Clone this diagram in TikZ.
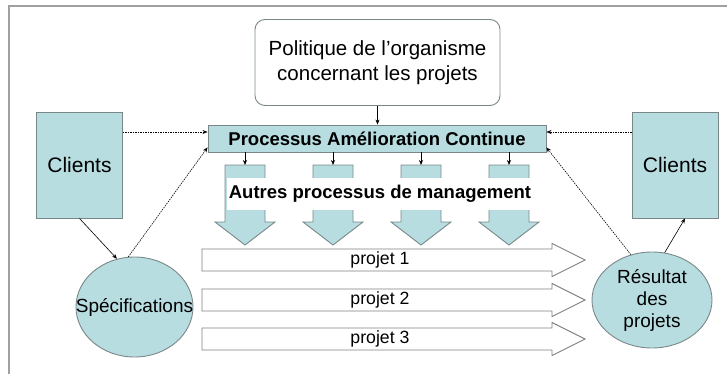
\documentclass[tikz,border=0pt]{standalone}
\usepackage{fontspec}
\setmainfont{Liberation Sans}
\usepackage{xcolor}
\usepackage{tikz}
\usetikzlibrary{arrows.meta,shapes}
\definecolor{bleuclair}{HTML}{B7DDE1}
\definecolor{grisbord}{HTML}{7A8788}
\definecolor{griscadre}{HTML}{A0A0A0}

\begin{document}
\begin{tikzpicture}[>={Stealth[length=5pt,width=4pt]},x=1pt,y=-1pt,
  bloc/.style={draw=grisbord,fill=bleuclair,line width=0.9pt},
  fleche/.style={draw=gray,fill=white,line width=0.9pt},
  pointille/.style={dash pattern=on 1.5pt off 1pt,line width=0.6pt},
  lien/.style={line width=0.6pt}]
\useasboundingbox(0,0)rectangle(727,374);
\draw[griscadre,line width=1.3pt](9,374)--(9,6)--(727,6);
% boites du haut
\node[draw=grisbord,rounded corners=10pt,minimum width=245pt,minimum height=86pt,line width=0.9pt,
  align=center,font=\fontsize{20.5}{25}\selectfont](pol)at(377.5,62.5){Politique de l’organisme\\concernant les projets};
\node[bloc,minimum width=338pt,minimum height=27pt,font=\bfseries\fontsize{18.5}{22}\selectfont](pac)at(377,138.5){Processus Amélioration Continue};
\node[bloc,minimum width=86pt,minimum height=106pt,font=\fontsize{21}{25}\selectfont](cl1)at(79.5,165){Clients};
\node[bloc,minimum width=86pt,minimum height=106pt,font=\fontsize{21}{25}\selectfont](cl2)at(675,165){Clients};
\node[bloc,ellipse,minimum width=117pt,minimum height=100pt](spec)at(134.5,307){};
\node[font=\fontsize{19}{22}\selectfont](spect)at(spec){Spécifications};
\node[bloc,ellipse,minimum width=120pt,minimum height=96pt](res)at(652,300){};
\node[align=center,font=\fontsize{19}{22}\selectfont](rest)at(res){Résultat\\des\\projets};
% fleches vers les projets
\foreach \c[count=\i] in {245,333,421,509}{
  \draw[bloc](\c-20,165)--(\c+20,165)--(\c+20,222)--(\c+30,222)--(\c,245)--(\c-30,222)--(\c-20,222)--cycle;
  \coordinate(d\i)at(\c,165);
  \draw[lien,->](pac.south-|d\i)--(d\i);
}
\node[fill=white,minimum height=32pt,inner xsep=2pt,font=\bfseries\fontsize{18.5}{22}\selectfont](mgmt)at(380,194){Autres processus de management};
% projets
\foreach \y/\n in {260/1,300/2,339/3}{
  \draw[fleche](202,\y-11)--(552,\y-11)--(552,\y-16.5)--(585,\y)--(552,\y+16.5)--(552,\y+11)--(202,\y+11)--cycle;
  \node[font=\fontsize{17.7}{21}\selectfont](p\n)at(380,\y){projet \n};
}
% liens
\coordinate(pl)at([yshift=6.5pt]pac.west);
\coordinate(pr)at([yshift=6.5pt]pac.east);
\draw[lien,->](pol.south)--(pac.north-|pol.south);
\draw[pointille,->](cl1.east|-pl)--(pl);
\draw[pointille,->](cl2.west|-pr)--(pr);
\draw[lien,->](cl1.south)--(spec.110);
\draw[pointille,->](spec.97)--([yshift=5pt]pac.south west);
\draw[pointille,->](res.115)--([yshift=5pt]pac.south east);
\draw[lien,->](res.75)--([xshift=10pt]cl2.south);
\end{tikzpicture}
\end{document}
